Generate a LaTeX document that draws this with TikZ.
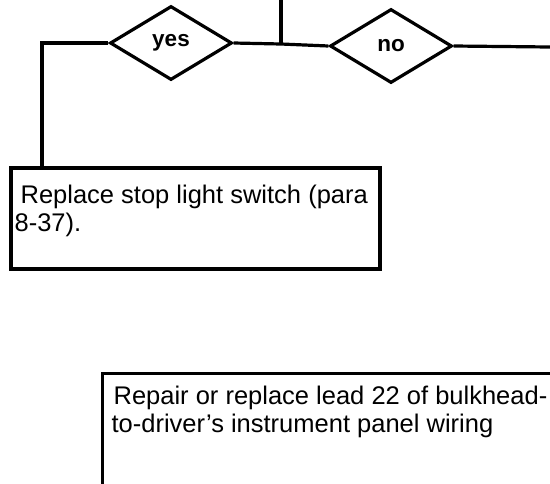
\documentclass[tikz,border=0pt]{standalone}
\usepackage{fontspec}
\setmainfont{Liberation Sans}
\usetikzlibrary{shapes.geometric}
\begin{document}
\begin{tikzpicture}[x=1pt,y=-1pt,
  line width=3.2pt,
  dec/.style={diamond, draw, line width=3.2pt, inner sep=0pt, minimum width=122pt, minimum height=74pt, font=\fontsize{22.5}{26}\selectfont\bfseries},
  boxtext/.style={anchor=north west, inner sep=0pt, align=left, font=\fontsize{25.5}{28}\selectfont},
  conn/.style={line width=3.2pt}]
\useasboundingbox (0,0) rectangle (550,483);
\clip (0,0) rectangle (550,483);
\node[dec] (yes) at (171,43) {yes};
\node[dec] (no) at (391,46) {no};
\coordinate (top) at (281,0);
\coordinate (j) at (281,44);
\coordinate (rightend) at (550,47);
\coordinate (lc) at (42,43);
\draw[conn] (top) -- (j);
\draw[conn] (yes.east) -- (j) -- (no.west);
\draw[conn] (no.east) -- (rightend);
\node[draw, line width=3.8pt, minimum width=369pt, minimum height=101pt, anchor=north west, inner sep=0pt] (box1) at (9,166) {};
\draw[conn] (yes.west) -- (lc) -- (lc |- box1.north);
\node[boxtext] (t1) at (13,183.5) {\hspace{6pt}Replace stop light switch (para\\8-37).};
\node[draw, line width=3.2pt, minimum width=500pt, minimum height=150pt, anchor=north west, inner sep=0pt] (box2) at (101,372) {};
\node[boxtext] (t2) at (110,384) {\hspace{2pt}Repair or replace lead 22 of bulkhead-\\to-driver’s instrument panel wiring};
\end{tikzpicture}
\end{document}
